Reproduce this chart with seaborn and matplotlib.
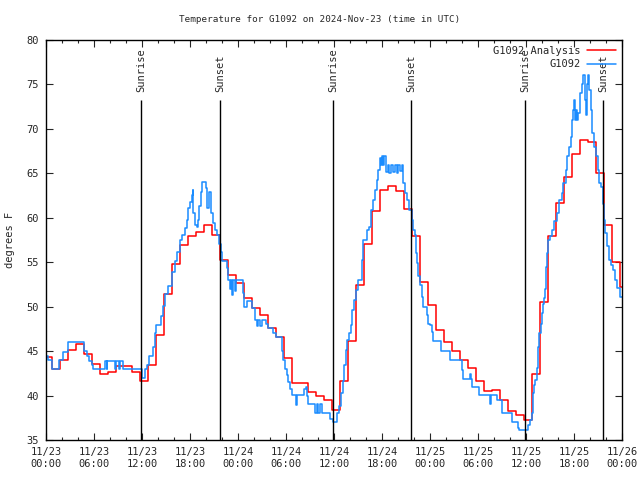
import pandas as pd
import matplotlib
matplotlib.use("Agg")
import matplotlib.pyplot as plt
import matplotlib.dates as mdates
import seaborn as sns

## data
start = pd.Timestamp("2024-11-23 00:00")

# analysis: hourly values, each held from hh:45
analysis_temps = [44.3, 43.0, 44.0, 45.1, 45.8, 44.7, 43.6, 42.4, 42.7, 43.3,
                  43.3, 42.7, 41.6, 43.4, 46.8, 51.4, 54.8, 56.9, 58.0, 58.4,
                  59.2, 58.1, 55.3, 53.6, 52.7, 51.0, 49.8, 49.1, 47.6, 46.6,
                  44.2, 41.4, 41.4, 40.4, 40.0, 39.5, 38.4, 41.6, 46.1, 52.4,
                  57.1, 60.8, 63.1, 63.6, 63.0, 61.0, 58.0, 52.8, 50.2, 47.4,
                  46.0, 45.0, 44.0, 43.1, 41.6, 40.5, 40.6, 39.5, 38.3, 37.8,
                  37.3, 42.4, 50.5, 57.9, 61.7, 64.6, 67.2, 68.8, 68.5, 65.0,
                  59.2, 55.0, 52.2, 52.2]
analysis_times = pd.date_range("2024-11-22 23:45", periods=len(analysis_temps), freq="h")

# station observations (hours since 11/23 00:00 UTC)
obs_hours = [0.00, 0.29, 0.71, 1.63, 2.16, 2.79, 4.79, 5.16, 5.38, 5.71,
             5.91, 7.38, 7.59, 7.66, 8.63, 8.71, 9.13, 9.21, 9.66, 11.94,
             12.38, 12.66, 12.91, 13.34, 13.63, 13.75, 14.34, 14.66, 14.88, 15.29,
             15.71, 16.13, 16.41, 16.75, 16.96, 17.38, 17.59, 17.79, 18.00, 18.21,
             18.34, 18.41, 18.63, 18.84, 19.04, 19.16, 19.38, 19.50, 19.96, 20.09,
             20.41, 20.59, 20.84, 21.13, 21.41, 21.63, 21.84, 21.96, 22.59, 22.79,
             23.00, 23.13, 23.29, 23.41, 23.63, 23.75, 24.66, 24.75, 25.09, 25.71,
             26.13, 26.34, 26.54, 26.75, 26.96, 27.46, 27.75, 28.38, 28.75, 29.46,
             29.66, 29.88, 30.09, 30.29, 30.50, 30.71, 31.25, 31.34, 32.25, 32.50,
             32.66, 32.79, 33.63, 33.84, 34.04, 34.25, 34.46, 35.50, 35.91, 36.41,
             36.63, 36.84, 37.09, 37.25, 37.46, 37.66, 37.88, 38.09, 38.29, 38.50,
             38.71, 39.04, 39.46, 39.66, 40.09, 40.41, 40.59, 40.91, 41.13, 41.34,
             41.54, 41.75, 41.88, 42.00, 42.13, 42.31, 42.50, 42.69, 42.88, 43.13,
             43.38, 43.63, 43.88, 44.06, 44.25, 44.46, 44.66, 44.88, 45.16, 45.41,
             45.71, 45.91, 46.13, 46.25, 46.34, 46.54, 46.75, 46.96, 47.16, 47.59,
             47.79, 48.00, 48.21, 48.41, 49.34, 50.50, 51.96, 52.16, 53.00, 53.10,
             53.21, 54.13, 55.50, 55.63, 56.34, 56.96, 58.21, 59.04, 59.16, 60.29,
             60.50, 60.75, 60.91, 61.00, 61.13, 61.34, 61.54, 61.66, 61.84, 61.96,
             62.09, 62.25, 62.38, 62.50, 62.59, 62.79, 63.00, 63.21, 63.50, 63.84,
             64.16, 64.46, 64.66, 64.96, 65.16, 65.38, 65.59, 65.71, 65.91, 66.04,
             66.13, 66.25, 66.38, 66.54, 66.75, 66.96, 67.16, 67.38, 67.50, 67.59,
             67.71, 67.88, 68.09, 68.29, 68.50, 68.75, 68.96, 69.16, 69.38, 69.59,
             69.75, 69.91, 70.16, 70.41, 70.59, 70.91, 71.13, 71.34, 71.75, 72.00]
obs_temps = [44.4, 44.0, 43.0, 44.0, 44.9, 46.0, 45.0, 44.5, 43.9, 43.4,
             43.0, 43.9, 43.0, 43.9, 43.0, 43.9, 43.0, 43.9, 43.0, 42.0,
             43.0, 43.4, 44.4, 45.5, 47.0, 47.9, 48.9, 50.1, 51.4, 52.3,
             53.9, 55.1, 56.2, 57.5, 58.1, 58.8, 59.8, 61.1, 61.8, 62.6,
             63.1, 60.5, 59.2, 59.0, 59.8, 61.3, 62.9, 64.0, 63.3, 61.1,
             62.9, 60.5, 59.4, 58.6, 58.1, 57.1, 56.2, 55.1, 54.3, 53.0,
             52.0, 53.0, 51.3, 53.0, 51.8, 53.0, 51.5, 50.0, 50.6, 49.8,
             48.5, 47.8, 48.5, 47.8, 48.5, 48.1, 47.6, 47.0, 46.6, 45.0,
             44.0, 43.0, 42.3, 41.5, 40.7, 40.1, 38.9, 40.1, 40.7, 41.0,
             39.9, 39.1, 38.0, 39.1, 38.0, 39.1, 38.0, 37.4, 37.0, 38.0,
             38.8, 40.3, 41.6, 43.4, 45.1, 46.3, 47.0, 47.9, 49.6, 50.8,
             51.9, 53.0, 55.3, 57.5, 58.6, 59.0, 60.9, 62.0, 63.1, 64.3,
             65.4, 66.7, 65.9, 67.0, 65.9, 67.0, 65.2, 65.9, 65.0, 65.9,
             65.2, 65.9, 65.0, 65.9, 65.3, 65.9, 63.9, 62.8, 62.0, 60.9,
             59.8, 58.6, 58.1, 56.0, 54.9, 53.4, 52.4, 51.1, 50.0, 49.1,
             48.1, 47.9, 47.2, 46.1, 45.0, 44.0, 42.9, 41.9, 42.4, 41.9,
             41.0, 40.1, 39.0, 40.1, 39.5, 38.0, 37.0, 36.4, 36.1, 36.7,
             37.3, 38.0, 40.3, 41.2, 41.8, 43.1, 45.5, 47.0, 48.1, 49.3,
             50.3, 51.0, 52.0, 54.5, 56.0, 57.5, 57.9, 58.6, 59.6, 60.5,
             62.0, 62.8, 63.9, 65.4, 66.9, 68.0, 69.1, 71.0, 72.1, 73.3,
             71.0, 72.1, 71.0, 71.8, 74.0, 75.1, 76.1, 73.3, 71.6, 75.1,
             76.1, 74.4, 72.1, 69.5, 68.0, 66.9, 65.4, 63.9, 63.5, 61.6,
             59.8, 58.3, 56.8, 55.3, 54.7, 54.1, 53.0, 52.1, 51.1, 51.1]
obs_times = start + pd.to_timedelta(obs_hours, unit="h")

sun_times = pd.to_datetime(["2024-11-23 11:55", "2024-11-23 21:47",
                            "2024-11-24 11:55", "2024-11-24 21:40",
                            "2024-11-25 11:55", "2024-11-25 21:40"])
sun_labels = ["Sunrise", "Sunset", "Sunrise", "Sunset", "Sunrise", "Sunset"]

## plot
sns.set_style("ticks")
plt.rcParams['font.family'] = ['DejaVu Sans Mono']
plt.rcParams['font.size'] = 7

fig = plt.figure(figsize=(6.4, 4.8), dpi=100)
ax = fig.add_axes([46 / 640, 40 / 480, 576 / 640, 400 / 480])

sns.lineplot(x=analysis_times, y=analysis_temps, ax=ax, color="#ff0000",
             drawstyle="steps-post", linewidth=1.1, label="G1092 Analysis")
sns.lineplot(x=obs_times, y=obs_temps, ax=ax, color="#1a8cff",
             drawstyle="steps-post", linewidth=1.1, label="G1092")

ax.vlines(sun_times, 35, 73.3, color="black", linewidth=1.0)
for t, lab in zip(sun_times, sun_labels):
    ax.text(t, 74.2, lab, rotation=90, ha="center", va="bottom", fontsize=7.5)

ax.set_xlim(pd.Timestamp("2024-11-23 00:00"), pd.Timestamp("2024-11-26 00:00"))
ax.set_ylim(35, 80)
ax.set_yticks(range(35, 81, 5))
ax.xaxis.set_major_locator(mdates.HourLocator(byhour=[0, 6, 12, 18]))
ax.xaxis.set_minor_locator(mdates.HourLocator(interval=2))
ax.xaxis.set_major_formatter(mdates.DateFormatter("%m/%d\n%H:%M"))
ax.tick_params(which="both", direction="in", top=True, right=True, labelsize=7.5)
ax.tick_params(which="major", length=5, width=0.8)
ax.tick_params(which="minor", length=2.5, width=0.8)
ax.tick_params(axis="y", pad=5)
ax.tick_params(axis="x", pad=5)
for s in ax.spines.values():
    s.set_linewidth(1.0)
    s.set_color("black")
ax.set_xlabel("")
ax.set_ylabel("")

ax.legend(loc="upper right", frameon=False, markerfirst=False, fontsize=7.5,
          handlelength=2.8, handletextpad=0.6, labelspacing=0.35,
          borderaxespad=0.25, borderpad=0.3)

fig.text(0.5, 1 - 20 / 480, "Temperature for G1092 on 2024-Nov-23 (time in UTC)",
         ha="center", va="center", fontsize=6.7)
fig.text(10 / 640, 0.5, "degrees F", rotation=90, ha="center", va="center", fontsize=7.5)

fig.savefig("out.png", dpi=100)
